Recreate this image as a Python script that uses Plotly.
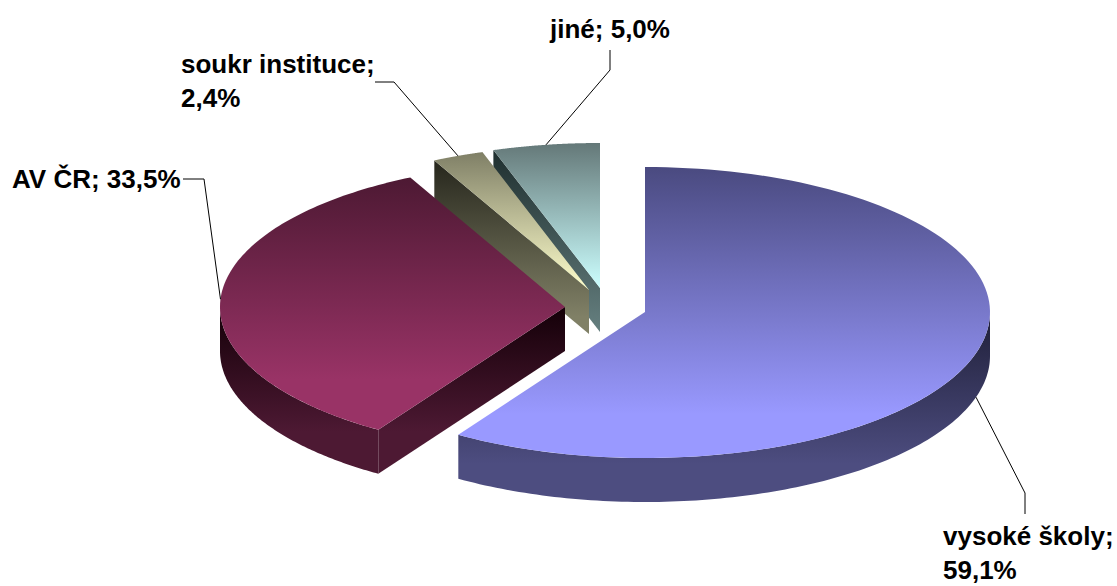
import numpy as np
import plotly.graph_objects as go

categories = ["vysoké školy", "AV ČR", "soukr instituce", "jiné"]
shares = [59.1, 33.5, 2.4, 5.0]
label_breaks = [True, False, True, False]

# --- style and layout of the drawing (pixel scale of the axes) ---
W, H = 1117, 586
RX, RY_FRONT, RY_BACK = 345, 146, 145
DEPTH = 44
APEX = [(645, 312), (565, 307), (589, 290), (600, 288)]
TOP_COL = [("#4a4a80", "#9999ff"), ("#4d1933", "#993366"),
           ("#7f7f66", "#ffffcc"), ("#647878", "#ccffff")]
TOP_END = [0.85, 0.8, 1.0, 1.0]
SIDE_COL = [("#1f1f38", "#4d4d80"), ("#140008", "#4d1933"),
            ("#26261c", "#808066"), ("#1f2f2f", "#668080")]
SIDE_END = [0.8, 0.75, 0.9, 1.0]
LABEL_POS = [(942, 519), (11, 179), (180, 47), (548, 29)]
ELBOW = [[(1025, 493), (1025, 514)], [(204, 179), (183, 179)],
         [(394, 82), (375, 82)], [(610, 70), (610, 50)]]


def rim(i, a0, a1, n=120):
    """Points of the outer edge of slice i between two clockwise angles (deg)."""
    cx, cy = APEX[i]
    t = np.radians(np.linspace(a0, a1, n))
    ry = np.where(np.cos(t) > 0, RY_BACK, RY_FRONT)
    return cx + RX * np.sin(t), cy - ry * np.cos(t)


def patch(xs, ys, colors, end, name):
    xs, ys = np.asarray(xs, float), np.asarray(ys, float)
    scale = [[0, colors[0]], [end, colors[1]]]
    if end < 1:
        scale.append([1, colors[1]])
    return go.Scatter(
        x=xs, y=ys, mode="none", fill="toself", name=name, hoverinfo="skip",
        fillgradient=dict(type="vertical", start=float(ys.min()), stop=float(ys.max()),
                          colorscale=scale),
    )


cum = np.concatenate([[0], np.cumsum(shares)]) * 3.6
fig = go.Figure()

for i in [3, 2, 1, 0]:
    a0, a1 = cum[i], cum[i + 1]
    cx, cy = APEX[i]
    name = categories[i]
    # outer wall: the part of the rim that faces the viewer
    lo, hi = max(a0, 90), min(a1, 270)
    if hi > lo:
        rx_, ry_ = rim(i, lo, hi)
        fig.add_trace(patch(np.r_[rx_, rx_[::-1]], np.r_[ry_, ry_[::-1] + DEPTH],
                            SIDE_COL[i], SIDE_END[i], name + " rim"))
    # visible cut wall
    if i > 0:
        px, py = rim(i, a0, a0, 1)
        fig.add_trace(patch([cx, px[0], px[0], cx], [cy, py[0], py[0] + DEPTH, cy + DEPTH],
                            SIDE_COL[i], SIDE_END[i], name + " cut"))
    # top face
    rx_, ry_ = rim(i, a0, a1)
    fig.add_trace(patch(np.r_[cx, rx_], np.r_[cy, ry_], TOP_COL[i], TOP_END[i], name))

annotations = []
for i, name in enumerate(categories):
    mid = (cum[i] + cum[i + 1]) / 2
    px, py = rim(i, mid, mid, 1)
    if 90 < mid < 270:
        py = py + DEPTH
    lx = [px[0]] + [p[0] for p in ELBOW[i]]
    ly = [py[0]] + [p[1] for p in ELBOW[i]]
    fig.add_trace(go.Scatter(x=lx, y=ly, mode="lines", hoverinfo="skip",
                             line=dict(color="#000000", width=1), name=name + " leader"))
    value = f"{shares[i]:.1f}%".replace(".", ",")
    text = f"{name};<br>{value}" if label_breaks[i] else f"{name}; {value}"
    annotations.append(dict(
        x=LABEL_POS[i][0], y=LABEL_POS[i][1], text=text, showarrow=False,
        xanchor="left", yanchor="top" if label_breaks[i] else "middle", align="left",
        xshift=-1,
        font=dict(family="Liberation Sans", size=26, color="#000000", weight="bold"),
    ))

fig.update_layout(
    width=W, height=H, margin=dict(l=0, r=0, t=0, b=0), showlegend=False,
    paper_bgcolor="#ffffff", plot_bgcolor="#ffffff", annotations=annotations,
    xaxis=dict(range=[0, W], visible=False, fixedrange=True),
    yaxis=dict(range=[H, 0], visible=False, fixedrange=True),
)
fig.write_html("out.html", config={"displayModeBar": False},
               post_script="document.body.style.margin='0';document.body.style.overflow='hidden';")
